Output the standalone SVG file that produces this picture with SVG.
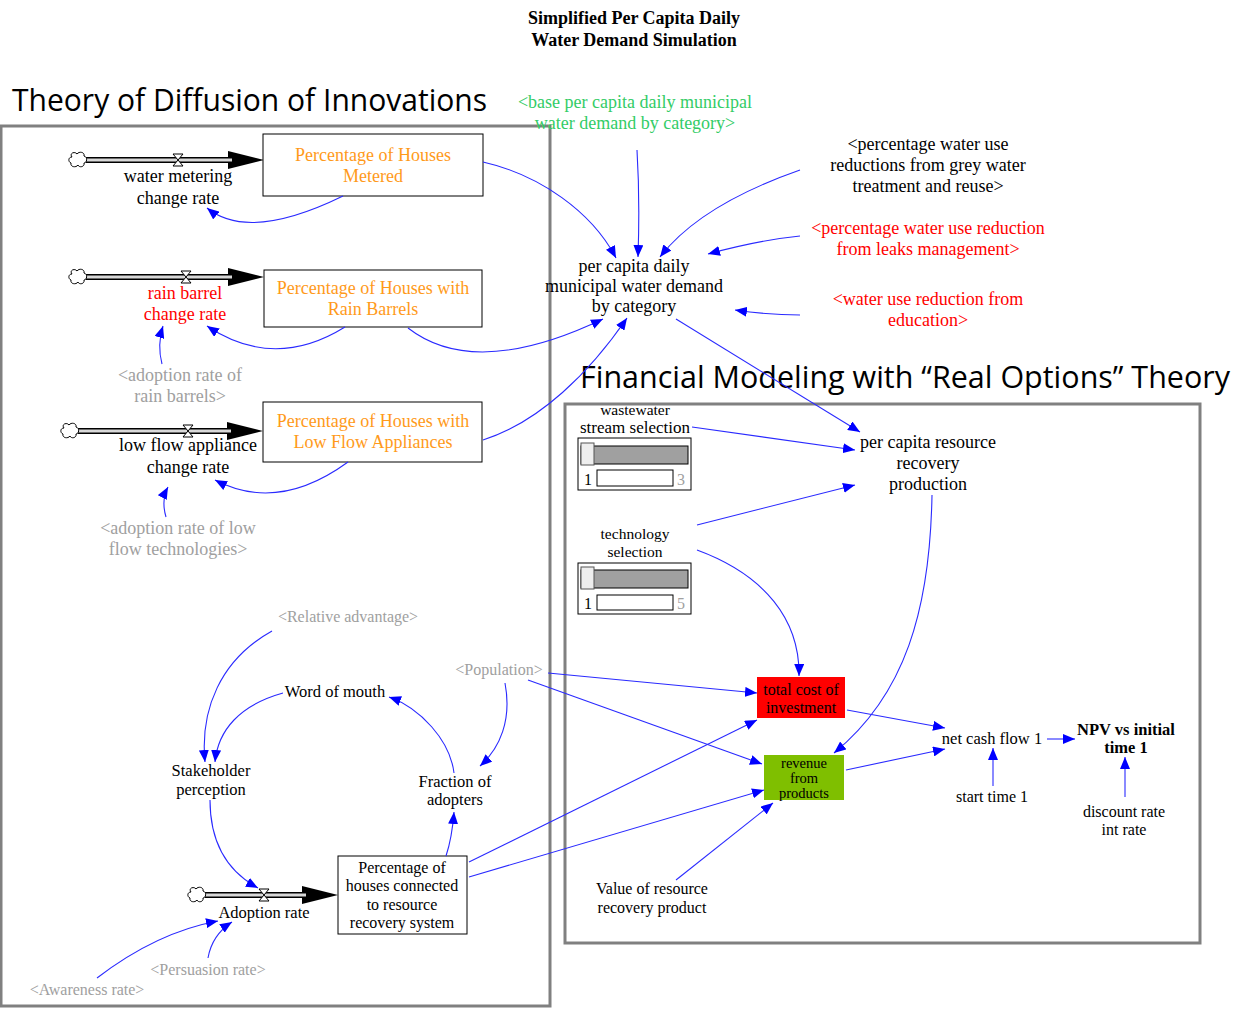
<svg xmlns="http://www.w3.org/2000/svg" width="1242" height="1009" viewBox="0 0 1242 1009">
<style>
text{font-family:"Liberation Serif","Times New Roman",serif;text-anchor:middle;fill:#000;font-size:18px}
.s{font-size:16.5px}
.xs{font-size:16px}
.rv{font-size:14.5px}
.g{fill:#a0a0a0}
.r{fill:#ff0000}
.o{fill:#ff9a1a}
.gr{fill:#33cc66}
.b{font-weight:bold}
.h{font-family:"Open Sans","Liberation Sans",sans-serif;font-size:31px;text-anchor:start}
.frame{fill:none;stroke:#808080;stroke-width:3}
.stock{fill:#fff;stroke:#000;stroke-width:1}
.lk{fill:none;stroke:#2a2aff;stroke-width:1.1;marker-end:url(#a)}
.pipeo{stroke:#000;stroke-width:6;fill:none}
.pipei{stroke:#d8d8d8;stroke-width:3;fill:none}
.valve{fill:#fff;stroke:#000;stroke-width:1}
.cloud{fill:#fff;stroke:#000;stroke-width:1}
</style>
<defs>
<marker id="a" markerUnits="userSpaceOnUse" markerWidth="12" markerHeight="10" refX="12" refY="5" orient="auto">
<path d="M0,0 L12,5 L0,10 z" fill="#0000ff"/>
</marker>
<marker id="fa" markerUnits="userSpaceOnUse" markerWidth="36" markerHeight="18" refX="2" refY="9" orient="auto">
<path d="M0,0 L36,9 L0,18 z" fill="#000"/>
</marker>
<path id="cl" d="M-6,-3 C-9,-7 -3,-9 -1,-6 C1,-9 7,-8 6,-4 C10,-3 9,3 6,3 C7,7 1,8 0,5 C-2,8 -8,7 -7,3 C-10,2 -10,-3 -6,-3 z"/>
</defs>

<!-- titles -->
<g id="title">
<text x="634" y="24" class="b">Simplified Per Capita Daily</text>
<text x="634" y="46" class="b">Water Demand Simulation</text>
</g>
<text x="12" y="111" class="h" textLength="475" lengthAdjust="spacingAndGlyphs">Theory of Diffusion of Innovations</text>
<text x="580" y="388" class="h" textLength="650" lengthAdjust="spacingAndGlyphs">Financial Modeling with “Real Options” Theory</text>

<!-- frames -->
<rect class="frame" x="1" y="126" width="549" height="880"/>
<rect class="frame" x="565" y="404" width="635" height="539"/>

<!-- flows -->
<g id="flow-metering">
<path class="pipeo" d="M86,160 H230" marker-end="url(#fa)"/>
<path class="pipei" d="M86,160 H232"/>
<use href="#cl" x="78" y="160" class="cloud"/>
<path class="valve" d="M173,154 H183 L173,166 H183 Z"/>
<text x="178" y="182">water metering</text>
<text x="178" y="204">change rate</text>
</g>
<g id="flow-rainbarrel">
<path class="pipeo" d="M86,277 H230" marker-end="url(#fa)"/>
<path class="pipei" d="M86,277 H232"/>
<use href="#cl" x="78" y="277" class="cloud"/>
<path class="valve" d="M181,271 H191 L181,283 H191 Z"/>
<text x="185" y="299" class="r">rain barrel</text>
<text x="185" y="320" class="r">change rate</text>
</g>
<g id="flow-lowflow">
<path class="pipeo" d="M78,431 H229" marker-end="url(#fa)"/>
<path class="pipei" d="M78,431 H231"/>
<use href="#cl" x="70" y="431" class="cloud"/>
<path class="valve" d="M183,425 H193 L183,437 H193 Z"/>
<text x="188" y="451">low flow appliance</text>
<text x="188" y="473">change rate</text>
</g>
<g id="flow-adoption">
<path class="pipeo" d="M205,895 H304" marker-end="url(#fa)"/>
<path class="pipei" d="M205,895 H306"/>
<use href="#cl" x="197" y="895" class="cloud"/>
<path class="valve" d="M259,889 H269 L259,901 H269 Z"/>
<text x="264" y="918" class="s">Adoption rate</text>
</g>

<!-- stocks -->
<g id="stock-metered">
<rect class="stock" x="263" y="134" width="220" height="62"/>
<text x="373" y="161" class="o">Percentage of Houses</text>
<text x="373" y="182" class="o">Metered</text>
</g>
<g id="stock-rainbarrels">
<rect class="stock" x="264" y="270" width="218" height="57"/>
<text x="373" y="294" class="o">Percentage of Houses with</text>
<text x="373" y="315" class="o">Rain Barrels</text>
</g>
<g id="stock-lowflow">
<rect class="stock" x="263" y="402" width="219" height="60"/>
<text x="373" y="427" class="o">Percentage of Houses with</text>
<text x="373" y="448" class="o">Low Flow Appliances</text>
</g>
<g id="stock-connected">
<rect class="stock" x="338" y="856" width="129" height="78"/>
<text x="402" y="873" class="xs">Percentage of</text>
<text x="402" y="891" class="xs">houses connected</text>
<text x="402" y="910" class="xs">to resource</text>
<text x="402" y="928" class="xs">recovery system</text>
</g>

<!-- variables -->
<g id="adopt-rain"><text x="180" y="381" class="g">&lt;adoption rate of</text><text x="180" y="402" class="g">rain barrels&gt;</text></g>
<g id="adopt-lowflow"><text x="178" y="534" class="g">&lt;adoption rate of low</text><text x="178" y="555" class="g">flow technologies&gt;</text></g>
<g id="base-demand"><text x="635" y="108" class="gr">&lt;base per capita daily municipal</text><text x="635" y="129" class="gr">water demand by category&gt;</text></g>
<g id="grey-water"><text x="928" y="150">&lt;percentage water use</text><text x="928" y="171">reductions from grey water</text><text x="928" y="192">treatment and reuse&gt;</text></g>
<g id="leaks"><text x="928" y="234" class="r">&lt;percentage water use reduction</text><text x="928" y="255" class="r">from leaks management&gt;</text></g>
<g id="education"><text x="928" y="305" class="r">&lt;water use reduction from</text><text x="928" y="326" class="r">education&gt;</text></g>
<g id="per-capita-demand"><text x="634" y="272">per capita daily</text><text x="634" y="292">municipal water demand</text><text x="634" y="312">by category</text></g>

<g id="relative-advantage"><text x="348" y="622" class="xs g">&lt;Relative advantage&gt;</text></g>
<g id="word-of-mouth"><text x="335" y="697" class="s">Word of mouth</text></g>
<g id="population"><text x="499" y="675" class="xs g">&lt;Population&gt;</text></g>
<g id="stakeholder"><text x="211" y="776" class="s">Stakeholder</text><text x="211" y="795" class="s">perception</text></g>
<g id="fraction"><text x="455" y="787" class="s">Fraction of</text><text x="455" y="805" class="s">adopters</text></g>
<g id="persuasion"><text x="208" y="975" class="xs g">&lt;Persuasion rate&gt;</text></g>
<g id="awareness"><text x="87" y="995" class="xs g">&lt;Awareness rate&gt;</text></g>

<g id="wastewater-slider">
<text x="635" y="415" style="font-size:15.5px">wastewater</text>
<text x="635" y="433" style="font-size:17px">stream selection</text>
<rect x="578" y="438" width="113" height="52" fill="#fff" stroke="#000"/>
<rect x="581" y="446" width="107" height="18" fill="#a0a0a0" stroke="#000"/>
<rect x="581" y="443" width="13" height="22" fill="#eee" stroke="#555"/>
<text x="588" y="485" class="xs" fill="#4bb">1</text>
<rect x="597" y="470" width="76" height="16" fill="#fff" stroke="#000"/>
<text x="681" y="485" class="xs g">3</text>
</g>
<g id="technology-slider">
<text x="635" y="539" style="font-size:15.5px">technology</text>
<text x="635" y="557" style="font-size:15.5px">selection</text>
<rect x="578" y="563" width="113" height="51" fill="#fff" stroke="#000"/>
<rect x="581" y="570" width="107" height="18" fill="#a0a0a0" stroke="#000"/>
<rect x="581" y="567" width="13" height="22" fill="#eee" stroke="#555"/>
<text x="588" y="609" class="xs" fill="#4bb">1</text>
<rect x="597" y="595" width="76" height="15" fill="#fff" stroke="#000"/>
<text x="681" y="609" class="xs g">5</text>
</g>
<g id="resource-production"><text x="928" y="448">per capita resource</text><text x="928" y="469">recovery</text><text x="928" y="490">production</text></g>
<g id="total-cost">
<rect x="757" y="677" width="88" height="41" fill="#ff0000"/>
<text x="801" y="695" class="xs">total cost of</text>
<text x="801" y="713" class="xs">investment</text>
</g>
<g id="revenue">
<rect x="764" y="755" width="80" height="45" fill="#7fbf00"/>
<text x="804" y="768" class="rv">revenue</text>
<text x="804" y="783" class="rv">from</text>
<text x="804" y="798" class="rv">products</text>
</g>
<g id="net-cash-flow"><text x="992" y="744" class="s">net cash flow 1</text></g>
<g id="npv"><text x="1126" y="735" class="s b">NPV vs initial</text><text x="1126" y="753" class="s b">time 1</text></g>
<g id="start-time"><text x="992" y="802" class="xs">start time 1</text></g>
<g id="discount"><text x="1124" y="817" class="xs">discount rate</text><text x="1124" y="835" class="xs">int rate</text></g>
<g id="value-product"><text x="652" y="894" class="xs">Value of resource</text><text x="652" y="913" class="xs">recovery product</text></g>

<!-- connectors -->
<g id="connectors">
<path class="lk" d="M343,196 Q249,242 207,208"/>
<path class="lk" d="M345,327 Q274,371 207,326"/>
<path class="lk" d="M162,364 Q157,345 163,326"/>
<path class="lk" d="M408,328 Q475,380 603,319"/>
<path class="lk" d="M483,440 C540,422 590,372 627,318"/>
<path class="lk" d="M348,462 Q278,513 215,480"/>
<path class="lk" d="M166,517 Q161,500 168,487"/>
<path class="lk" d="M483,162 C540,175 592,212 616,258"/>
<path class="lk" d="M637,150 Q640,200 638,257"/>
<path class="lk" d="M800,170 Q700,205 660,257"/>
<path class="lk" d="M800,236 Q760,240 708,254"/>
<path class="lk" d="M800,315 Q770,315 735,310"/>
<path class="lk" d="M676,319 L860,432"/>
<path class="lk" d="M692,427 L855,450"/>
<path class="lk" d="M697,525 L855,485"/>
<path class="lk" d="M697,550 C765,575 800,620 799,676"/>
<path class="lk" d="M932,495 C930,610 905,695 834,753"/>
<path class="lk" d="M548,673 L757,693"/>
<path class="lk" d="M528,680 L762,764"/>
<path class="lk" d="M469,862 L757,720"/>
<path class="lk" d="M469,877 L764,790"/>
<path class="lk" d="M676,880 L773,803"/>
<path class="lk" d="M847,710 L945,728"/>
<path class="lk" d="M846,770 L945,749"/>
<path class="lk" d="M1047,739 L1075,739"/>
<path class="lk" d="M993,786 L993,748"/>
<path class="lk" d="M1125,797 L1125,757"/>
<path class="lk" d="M272,631 C220,660 200,710 205,762"/>
<path class="lk" d="M283,693 C240,705 218,730 215,762"/>
<path class="lk" d="M454,773 C450,740 420,708 389,697"/>
<path class="lk" d="M505,683 C512,720 500,748 480,766"/>
<path class="lk" d="M446,856 Q452,838 454,812"/>
<path class="lk" d="M210,800 C210,840 225,870 258,888"/>
<path class="lk" d="M208,958 Q212,935 232,922"/>
<path class="lk" d="M97,978 C140,945 180,928 218,921"/>
</g>
</svg>
